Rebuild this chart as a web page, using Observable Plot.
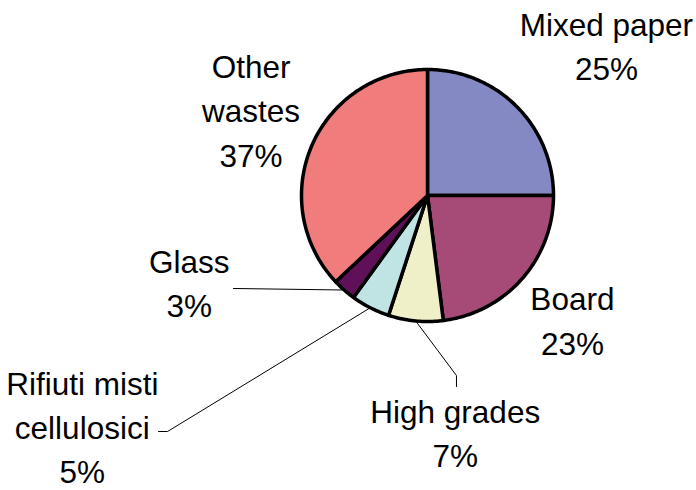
<!DOCTYPE html>
<html><head><meta charset="utf-8">
<script src="https://cdn.jsdelivr.net/npm/d3@7"></script>
<script src="https://cdn.jsdelivr.net/npm/@observablehq/plot@0.6"></script>
<style>body{margin:0;background:#fff}</style>
</head><body><div id="chart"></div>
<script>
// ---- data ----
const categories = ["Mixed paper", "Board", "High grades", "Rifiuti misti cellulosici", "Glass", "Other wastes"];
const labelNames = ["Mixed paper", "Board", "High grades", "Rifiuti misti\ncellulosici", "Glass", "Other\nwastes"];
const values = [25, 23, 7, 5, 3, 37];
const colors = ["#8489C3", "#A64A78", "#F0F0C8", "#C0E4E4", "#601058", "#F07C7C"];

// ---- layout (label anchors, in pie-radius units) ----
const labelPos = [[1.42, 1.205], [1.15, -0.975], [0.22, -1.865], [-2.74, -1.82], [-1.89, -0.675], [-1.40, 0.695]];
const leaderPts = {2: [[0.230, -1.429], [0.230, -1.516]], 3: [[-2.063, -1.873], [-2.135, -1.873]], 4: [[-1.54, -0.738]]};

const total = d3.sum(values);
const arcs = d3.pie().sort(null).value(d => d)(values);

const sliceRows = [];
arcs.forEach((a, i) => {
  const n = Math.max(4, Math.ceil((a.endAngle - a.startAngle) / (Math.PI / 180)));
  sliceRows.push({cat: categories[i], x: 0, y: 0});
  for (let k = 0; k <= n; k++) {
    const t = a.startAngle + (a.endAngle - a.startAngle) * k / n;
    sliceRows.push({cat: categories[i], x: Math.sin(t), y: Math.cos(t)});
  }
  sliceRows.push({cat: categories[i], x: 0, y: 0});
});

const labelRows = categories.map((c, i) => ({
  text: labelNames[i] + "\n" + Math.round(values[i] / total * 100) + "%",
  x: labelPos[i][0], y: labelPos[i][1]
}));

const leaderRows = [];
Object.entries(leaderPts).forEach(([k, pts]) => {
  const a = arcs[+k];
  const m = (a.startAngle + a.endAngle) / 2;
  leaderRows.push({id: k, x: Math.sin(m), y: Math.cos(m)});
  pts.forEach(p => leaderRows.push({id: k, x: p[0], y: p[1]}));
});

const chart = Plot.plot({
  width: 696, height: 490,
  margin: 0,
  style: {fontFamily: "'Liberation Sans', Arial, sans-serif", background: "#fff"},
  x: {domain: [-1, 1], range: [301, 553], axis: null},
  y: {domain: [-1, 1], range: [321, 69], axis: null},
  color: {domain: categories, range: colors},
  marks: [
    Plot.line(leaderRows, {x: "x", y: "y", z: "id", stroke: "#000", strokeWidth: 1}),
    Plot.line(sliceRows, {x: "x", y: "y", z: "cat", fill: "cat", stroke: "#000", strokeWidth: 3.5, strokeLinejoin: "round"}),
    Plot.text(labelRows, {x: "x", y: "y", text: "text", fontSize: 31.5, lineHeight: 1.41, fill: "#000", textAnchor: "middle"})
  ]
});
document.getElementById("chart").appendChild(chart);
</script>
</body></html>
